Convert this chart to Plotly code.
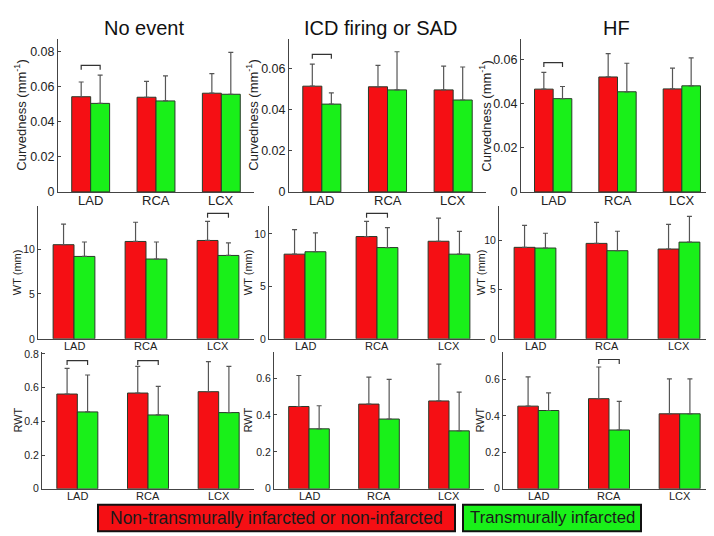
import plotly.graph_objects as go

W, H = 714, 536
categories = ["LAD", "RCA", "LCX"]
titles = ["No event", "ICD firing or SAD", "HF"]

# Curvedness (mm^-1): mean and SD
curv_red = [[0.0543, 0.0540, 0.0563], [0.0513, 0.0510, 0.0495], [0.0465, 0.0520, 0.0466]]
curv_red_sd = [[0.0084, 0.0090, 0.0112], [0.0107, 0.0104, 0.0115], [0.0076, 0.0106, 0.0094]]
curv_green = [[0.0505, 0.0519, 0.0557], [0.0426, 0.0495, 0.0446], [0.0422, 0.0453, 0.0480]]
curv_green_sd = [[0.0161, 0.0143, 0.0239], [0.0055, 0.0185, 0.0160], [0.0055, 0.0129, 0.0126]]

# WT (mm)
wt_red = [[10.5, 10.86, 10.97], [8.07, 9.75, 9.3], [9.27, 9.67, 9.1]]
wt_red_sd = [[2.3, 2.14, 2.13], [2.33, 1.45, 2.2], [2.23, 2.13, 2.5]]
wt_green = [[9.19, 8.9, 9.3], [8.3, 8.7, 8.07], [9.2, 8.93, 9.8]]
wt_green_sd = [[1.61, 1.9, 1.4], [1.8, 1.9, 2.18], [1.5, 1.97, 2.6]]

# RWT
rwt_red = [[0.562, 0.568, 0.576], [0.446, 0.459, 0.476], [0.454, 0.495, 0.412]]
rwt_red_sd = [[0.152, 0.158, 0.178], [0.168, 0.146, 0.200], [0.161, 0.174, 0.192]]
rwt_green = [[0.456, 0.438, 0.452], [0.325, 0.378, 0.314], [0.430, 0.323, 0.412]]
rwt_green_sd = [[0.219, 0.170, 0.274], [0.125, 0.215, 0.210], [0.097, 0.157, 0.192]]

# significance brackets: (row, col, category index, level)
brackets = [(0, 0, 0, 0.0722), (0, 1, 0, 0.0667), (0, 2, 0, 0.0585),
            (1, 0, 2, 14.0), (1, 1, 1, 11.96),
            (2, 0, 0, 0.76), (2, 0, 1, 0.76), (2, 2, 1, 0.71)]

ylabels = ["Curvedness (mm<sup>-1</sup>)", "WT (mm)", "RWT"]
yranges = [[0.087, 0.074, 0.069], [14.86, 12.7, 13.5], [0.81, 0.74, 0.75]]
ytickvals = [[[0, 0.02, 0.04, 0.06, 0.08], [0, 0.02, 0.04, 0.06], [0, 0.02, 0.04, 0.06]],
             [[0, 5, 10]] * 3,
             [[0, 0.2, 0.4, 0.6, 0.8], [0, 0.2, 0.4, 0.6], [0, 0.2, 0.4, 0.6]]]

rows_data = [(curv_red, curv_red_sd, curv_green, curv_green_sd),
             (wt_red, wt_red_sd, wt_green, wt_green_sd),
             (rwt_red, rwt_red_sd, rwt_green, rwt_green_sd)]

# panel pixel boxes (left, right) per row/col; (bottom, top) per row
xbox = [[(50, 246), (281, 478), (513, 706)],
        [(30, 246), (261, 477), (491, 707)],
        [(34, 246), (266, 476), (495, 707)]]
ybox = [(183, 27), (333.3, 197), (486.7, 347)]
xlab_y = [192, 340.5, 494]
ylab_x = [[12, 244, 477], [9, 240, 473], [10, 240, 472]]
title_x = [136, 372, 608]
tick_fs = [12.5, 10.5, 10.5]
xtick_fs = [13, 11, 11]
ylab_fs = [13, 11, 11]

RED = "#F50F14"
GREEN = "#19F019"
FONT = "Liberation Sans, Arial, sans-serif"
AX = "#444444"

fig = go.Figure()
layout = {}
annotations = []
shapes = []
BW = 0.29
for r in range(3):
    red, red_sd, green, green_sd = rows_data[r]
    for c in range(3):
        k = r * 3 + c + 1
        xa = "x" if k == 1 else f"x{k}"
        ya = "y" if k == 1 else f"y{k}"
        xs = [1, 2, 3]
        for vals, sds, col, off in [(red[c], red_sd[c], RED, -BW / 2), (green[c], green_sd[c], GREEN, BW / 2)]:
            fig.add_trace(go.Bar(
                x=[x + off for x in xs], y=vals, width=BW, xaxis=xa, yaxis=ya,
                marker=dict(color=col, line=dict(color="#2a3a2a", width=1)),
                error_y=dict(type="data", symmetric=False, array=sds, arrayminus=[0] * 3,
                             color="#555555", thickness=1.2, width=2.5),
                showlegend=False, hoverinfo="skip"))
        l, rr = xbox[r][c]
        b, t = ybox[r]
        hpx = b - t
        layout["xaxis" if k == 1 else f"xaxis{k}"] = dict(
            domain=[l / W, rr / W], range=[0.5, 3.5], anchor=ya,
            showticklabels=False, ticks="",
            showline=True, linecolor=AX, linewidth=1, showgrid=False, zeroline=False,
            fixedrange=True)
        for i, cat in enumerate(categories):
            annotations.append(dict(
                text=cat, x=i + 1, y=1 - xlab_y[r] / H, xref=xa, yref="paper",
                showarrow=False, xanchor="center", yanchor="middle",
                font=dict(family=FONT, size=xtick_fs[r], color="#222")))
        tv = ytickvals[r][c]
        layout["yaxis" if k == 1 else f"yaxis{k}"] = dict(
            domain=[1 - b / H, 1 - t / H], range=[0, yranges[r][c]], anchor=xa,
            tickvals=tv, ticktext=["0" if v == 0 else f"{v:g}" for v in tv],
            ticks="inside", ticklen=3, tickcolor=AX,
            showline=True, linecolor=AX, linewidth=1, showgrid=False, zeroline=False,
            tickfont=dict(family=FONT, size=tick_fs[r], color="#222"), fixedrange=True)
        annotations.append(dict(
            text=ylabels[r], x=ylab_x[r][c] / W, y=1 - (b + t) / 2 / H, xref="paper", yref="paper",
            textangle=-90, showarrow=False, xanchor="center", yanchor="middle",
            font=dict(family=FONT, size=ylab_fs[r], color="#222")))
        if r == 0:
            annotations.append(dict(
                text=titles[c], x=title_x[c] / W, y=1 - 15 / H,
                xref="paper", yref="paper", showarrow=False, xanchor="center", yanchor="middle",
                font=dict(family=FONT, size=20, color="#111")))
        for (br, bc, ci, lev) in brackets:
            if br == r and bc == c:
                d = yranges[r][c] * 4.5 / hpx
                x0, x1 = ci + 1 - BW / 2, ci + 1 + BW / 2
                fig.add_trace(go.Scatter(
                    x=[x0, x0, x1, x1], y=[lev - d, lev, lev, lev - d], mode="lines",
                    line=dict(color="#333333", width=1.2), xaxis=xa, yaxis=ya,
                    showlegend=False, hoverinfo="skip"))

# legend boxes
leg = [("Non-transmurally infarcted or non-infarcted", RED, 90, 447, 17.5),
       ("Transmurally infarcted", GREEN, 455, 633, 16.8)]
for text, col, x0, x1, fs in leg:
    shapes.append(dict(type="rect", xref="paper", yref="paper", x0=x0 / W, x1=x1 / W,
                       y0=1 - 530 / H, y1=1 - 503 / H, fillcolor=col,
                       line=dict(color="#111111", width=2)))
    annotations.append(dict(text=text, x=(x0 + x1) / 2 / W, y=1 - 516.5 / H, xref="paper", yref="paper",
                            showarrow=False, xanchor="center", yanchor="middle",
                            font=dict(family=FONT, size=fs, color="#1a1a1a")))

fig.update_layout(width=W, height=H, margin=dict(l=0, r=0, t=0, b=0),
                  paper_bgcolor="white", plot_bgcolor="white",
                  annotations=annotations, shapes=shapes, **layout)
fig.write_html("out.html")
